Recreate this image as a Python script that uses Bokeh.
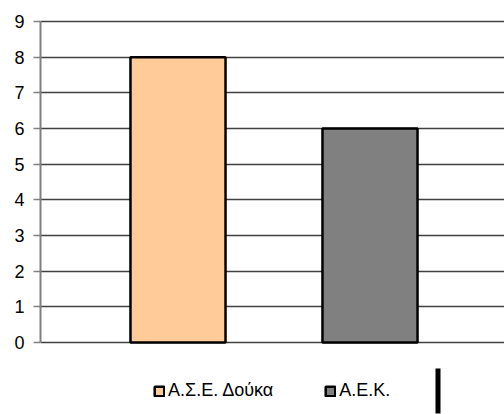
from bokeh.plotting import figure
from bokeh.models import Range1d, FixedTicker, Legend, LegendItem, BoxAnnotation
from bokeh.embed import file_html
from bokeh.resources import INLINE

series_names = ["Α.Σ.Ε. Δούκα", "Α.Ε.Κ."]
series_values = [8, 6]
series_colors = ["#FFCC99", "#808080"]
y_ticks = [0, 1, 2, 3, 4, 5, 6, 7, 8, 9]

ppu = (342 - 21) / 9.0
p = figure(width=504, height=414, output_backend="svg", toolbar_location=None,
           x_range=Range1d(1 - 137.5 / 192, 1 + 326.5 / 192),
           y_range=Range1d(-72 / ppu, 9 + 10 / ppu),
           min_border_left=40, min_border_right=0, min_border_top=11, min_border_bottom=0)
p.outline_line_color = None
p.xaxis.visible = False
p.xgrid.visible = False
p.ygrid.ticker = FixedTicker(ticks=y_ticks)
p.ygrid.grid_line_color = "#404040"
p.ygrid.grid_line_width = 1.4

ax = p.yaxis[0]
ax.ticker = FixedTicker(ticks=y_ticks)
ax.bounds = (0, 9)
ax.axis_line_color = "#808080"
ax.axis_line_width = 2
ax.major_tick_line_color = "#808080"
ax.major_tick_line_width = 1.5
ax.major_tick_out = 7
ax.major_tick_in = 0
ax.minor_tick_line_color = None
ax.major_label_text_font = "Liberation Sans"
ax.major_label_text_font_size = "18px"
ax.major_label_text_color = "#000000"
ax.major_label_standoff = 9

items = []
for i, (name, val, col) in enumerate(zip(series_names, series_values, series_colors)):
    r = p.vbar(x=[i + 1], top=[val], bottom=0, width=0.495, fill_color=col,
               line_color="#000000", line_width=2.5)
    items.append(LegendItem(label=name, renderers=[r]))

legend = Legend(items=items, orientation="horizontal", location=(113, 13),
                glyph_width=12, glyph_height=12, label_standoff=3, spacing=51,
                label_text_font="Liberation Sans", label_text_font_size="18px",
                label_text_color="#000000",
                border_line_color=None, background_fill_alpha=0, padding=4, margin=0)
p.add_layout(legend)

box = BoxAnnotation(left=395, right=400, top=46, bottom=1,
                    left_units="screen", right_units="screen", top_units="screen", bottom_units="screen",
                    fill_color="#000000", fill_alpha=1, line_color=None)
p.add_layout(box)

open("out.html", "w").write(file_html(p, INLINE))
